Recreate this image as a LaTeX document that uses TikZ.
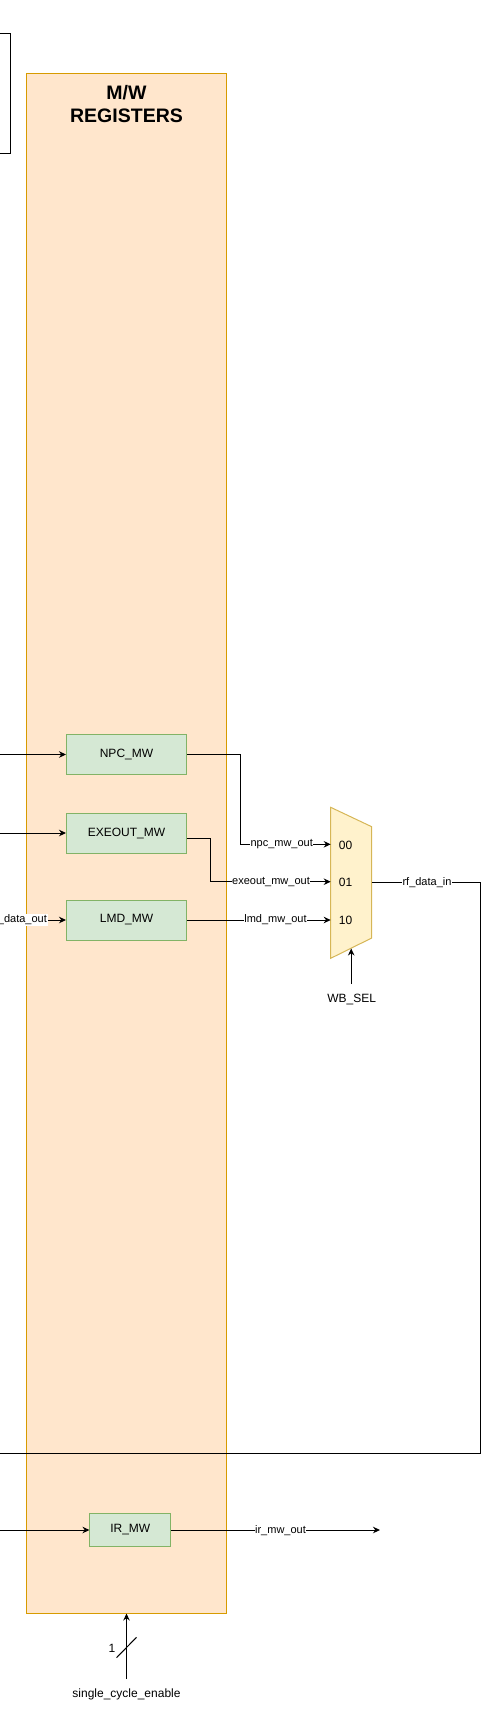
\documentclass[tikz,border=0pt]{standalone}
\usepackage{fontspec}
\setmainfont{Liberation Sans}
\usetikzlibrary{arrows.meta}
\definecolor{regfill}{HTML}{FFE6CC}
\definecolor{regdraw}{HTML}{D79B00}
\definecolor{boxfill}{HTML}{D5E8D4}
\definecolor{boxdraw}{HTML}{82B366}
\definecolor{muxfill}{HTML}{FFF2CC}
\definecolor{muxdraw}{HTML}{D6B656}
\begin{document}
\begin{tikzpicture}[x=1pt,y=-1pt,line width=1pt,
  regbox/.style={draw=boxdraw,fill=boxfill,minimum width=120pt,minimum height=40pt,inner sep=0pt,font=\fontsize{12}{14}\selectfont},
  lbl/.style={fill=white,inner sep=0.6pt,font=\fontsize{11}{13}\selectfont},
  txt/.style={inner sep=0pt,font=\fontsize{12}{14}\selectfont},
  arr/.style={-{Stealth[length=7pt,width=6.5pt]}}]
\useasboundingbox (0,0) rectangle (489,1709);
% left partial box
\node[draw=black,minimum width=100pt,minimum height=119.6pt,inner sep=0pt,anchor=east] (leftbox) at (10.7,93.4) {};
% M/W register bank
\node[draw=regdraw,fill=regfill,minimum width=200pt,minimum height=1540pt,inner sep=0pt] (mw) at (126.5,843) {};
\node[align=center,inner sep=0pt,font=\fontsize{19.5}{23}\selectfont\bfseries] (title) at (126.5,104.5) {M/W\\REGISTERS};
% registers
\node[regbox] (npc) at (126.5,754.5) {NPC\_MW};
\node[regbox] (exe) at (126.5,833) {EXEOUT\_MW};
\node[regbox] (lmd) at (126.5,920) {LMD\_MW};
\node[regbox,minimum width=80.7pt,minimum height=33.4pt] (ir) at (130.3,1530) {IR\_MW};
% mux
\draw[muxdraw,fill=muxfill] (330.7,807.3) coordinate (mtl) -- (371.7,826.7) -- (371.7,938) -- (330.7,958.3) -- cycle;
\coordinate (m00) at (330.7,844.3);
\coordinate (m01) at (330.7,881.7);
\coordinate (m10) at (330.7,920);
\coordinate (mout) at (371.7,882.5);
\coordinate (msel) at (351.2,948.5);
\node[txt] (d00) at (345.5,845) {00};
\node[txt] (d01) at (345.5,882) {01};
\node[txt] (d10) at (345.5,920.5) {10};
% inputs from the left
\coordinate (inpc) at (0,754.5);
\coordinate (iexe) at (0,833);
\coordinate (ilmd) at (0,920);
\coordinate (iir) at (0,1530);
\draw[arr] (inpc) -- (npc.west);
\draw[arr] (iexe) -- (exe.west);
\draw[arr] (ilmd) -- (lmd.west);
\draw[arr] (iir) -- (ir.west);
\node[lbl,anchor=east] (ldata) at (48,920) {mem\_data\_out};
% outputs to mux
\draw[arr] (npc.east) -- (240,754.5) |- (m00);
\draw[arr] (186.5,838) -- (210,838) |- (m01);
\draw[arr] (lmd.east) -- (m10);
\node[lbl] (lnpc) at (281.7,844.3) {npc\_mw\_out};
\node[lbl] (lexe) at (271,881.7) {exeout\_mw\_out};
\node[lbl] (llmd) at (275.5,920) {lmd\_mw\_out};
% mux output feedback
\coordinate (fb) at (0,1453.3);
\draw (mout) -- (480,882.5) |- (fb);
\node[lbl] (lrf) at (427,882.5) {rf\_data\_in};
% WB_SEL
\coordinate (wbs) at (351.2,984);
\draw[arr] (wbs) -- (msel);
\node[txt] (wbsel) at (351.7,999) {WB\_SEL};
% IR out
\coordinate (irend) at (380,1530);
\draw[arr] (ir.east) -- (irend);
\node[lbl] (lir) at (280.5,1530.5) {ir\_mw\_out};
% single cycle enable
\coordinate (sce) at (126.5,1679);
\draw[arr] (sce) -- (mw.south);
\draw (116.5,1657.7) -- (136.5,1637.3);
\node[txt] (one) at (112,1648) {1};
\node[txt] (scel) at (126.5,1694) {single\_cycle\_enable};
\end{tikzpicture}
\end{document}
